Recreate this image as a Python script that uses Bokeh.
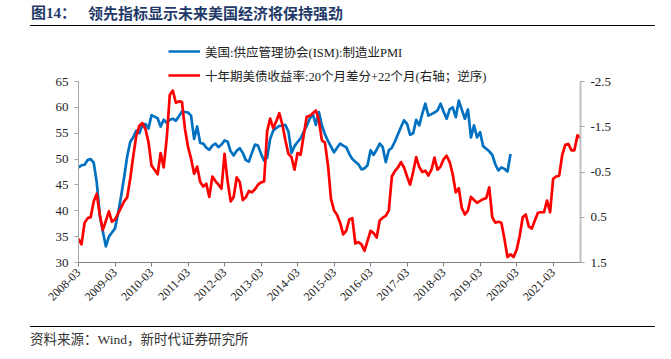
import math
import pandas as pd
from bokeh.plotting import figure
from bokeh.layouts import column
from bokeh.models import Range1d, LinearAxis, FixedTicker, Legend, LegendItem, Div
from bokeh.embed import file_html
from bokeh.resources import INLINE

# ---------------- data ----------------
months = [d.strftime("%Y-%m") for d in pd.date_range("2008-03-01", periods=166, freq="MS")]

pmi = [48.4, 48.8, 48.9, 49.8, 50.0, 49.3, 45.5, 39.1, 36.0, 33.1,
       35.0, 35.8, 36.6, 39.5, 42.8, 46.5, 50.5, 53.3, 54.2, 55.5,
       55.0, 56.6, 56.8, 55.9, 58.5, 58.2, 57.9, 56.3, 57.6, 57.0,
       57.6, 57.8, 57.4, 58.3, 59.2, 59.1, 59.0, 58.4, 53.9, 56.3,
       53.1, 53.0, 52.2, 51.8, 52.6, 53.0, 52.3, 52.8, 53.6, 53.4,
       51.5, 50.7, 51.6, 52.1, 51.2, 49.8, 49.5, 51.2, 52.8, 52.6,
       51.0, 49.7, 50.3, 53.9, 55.5, 56.0, 56.4, 56.5, 56.6, 55.3,
       51.2, 52.5, 53.3, 54.0, 55.2, 56.4, 57.8, 58.8, 56.6, 59.1,
       56.5, 54.8, 53.5, 52.4, 51.3, 52.2, 53.0, 52.6, 52.3, 51.0,
       50.0, 49.5, 49.0, 48.0, 48.2, 48.8, 51.7, 50.8, 51.8, 53.0,
       52.3, 49.4, 51.7, 52.2, 53.4, 54.8, 56.2, 57.5, 56.8, 54.7,
       55.0, 57.6, 56.5, 58.8, 60.7, 58.4, 58.7, 59.0, 59.4, 60.7,
       59.2, 57.8, 59.6, 60.0, 58.1, 61.3, 59.5, 57.8, 59.6, 54.2,
       56.5, 54.2, 55.2, 52.5, 52.0, 51.5, 50.8, 49.0, 47.8, 48.4,
       48.1, 47.6, 51.0]

ust = [0.98, 1.10, 0.62, 0.52, 0.50, 0.15, -0.02, 0.45, 0.78, 0.58,
       0.37, 0.60, 0.55, 0.42, 0.28, 0.15, 0.06, -0.35, -0.85, -1.30,
       -1.52, -1.58, -1.45, -1.16, -0.64, -0.55, -0.45, -0.92, -0.60, -1.25,
       -2.20, -2.30, -2.03, -2.06, -2.05, -1.45, -1.05, -0.80, -0.46, -0.62,
       -0.28, -0.18, -0.24, 0.05, -0.40, -0.30, -0.22, -0.13, -0.90, -0.30,
       0.15, 0.05, -0.38, -0.28, 0.12, 0.06, -0.08, -0.05, -0.12, -0.22,
       -0.27, -0.29, -1.40, -1.68, -1.47, -1.62, -1.80, -1.55, -1.20, -0.90,
       -0.83, -0.55, -0.92, -0.88, -1.30, -1.72, -1.74, -1.80, -1.86, -1.65,
       -1.20, -1.15, -0.65, 0.10, 0.35, 0.45, 0.62, 0.88, 0.80, 0.55,
       0.52, 1.08, 1.05, 1.10, 1.24, 1.02, 0.80, 0.85, 0.95, 0.57,
       0.51, 0.47, 0.35, -0.40, -0.52, -0.60, -0.72, -0.60, -0.40, -0.22,
       -0.50, -0.83, -0.61, -0.50, -0.53, -0.42, -0.55, -0.82, -0.55, -0.62,
       -0.78, -0.86, -0.72, -0.45, -0.05, -0.14, 0.30, 0.44, 0.35, 0.05,
       0.12, 0.18, 0.14, 0.10, 0.08, -0.16, 0.50, 0.62, 0.60, 0.62,
       0.98, 1.38, 1.32, 1.38, 1.22, 0.92, 0.50, 0.44, 0.70, 0.75,
       0.57, 0.40, 0.39, 0.39, 0.13, 0.39, -0.35, -0.40, -0.42, -0.88,
       -1.10, -1.12, -0.98, -0.98, -1.31, -1.25]

x_tick_labels = ["2008-03", "2009-03", "2010-03", "2011-03", "2012-03", "2013-03",
                 "2014-03", "2015-03", "2016-03", "2017-03", "2018-03", "2019-03",
                 "2020-03", "2021-03"]
left_ticks = [30, 35, 40, 45, 50, 55, 60, 65]
right_ticks = [-2.5, -1.5, -0.5, 0.5, 1.5]
right_labels = ["-2.5", "-1.5", "-0.5", "0.5", "1.5"]

pmi_name = "美国:供应管理协会(ISM):制造业PMI"
ust_name = "十年期美债收益率:20个月差分+22个月(右轴；逆序)"
title_no = "图14："
title_txt = "领先指标显示未来美国经济将保持强劲"
source_txt = "资料来源：Wind，新时代证券研究所"

FONT = "'Liberation Serif', 'Noto Sans CJK SC'"
W = 671

# ---------------- title strip ----------------
title_div = Div(width=W, height=30, margin=0, text=(
    '<div style="position:relative;width:671px;height:30px;">'
    '<span style="position:absolute;left:31px;top:4px;line-height:18px;'
    "font-family:'Liberation Serif','Noto Sans CJK SC';font-size:15px;font-weight:bold;"
    'color:#1F3A68;white-space:nowrap;">' + title_no + '</span>'
    '<span style="position:absolute;left:88px;top:4px;line-height:18px;'
    "font-family:'Noto Sans CJK SC';font-size:15px;font-weight:bold;"
    'color:#1F3A68;white-space:nowrap;">' + title_txt + '</span>'
    '<div style="position:absolute;left:30px;top:25px;width:625px;height:0;'
    'border-top:1px solid #000;"></div></div>'))

# ---------------- main chart ----------------
xi = list(range(len(months)))
PAD_TOP = 41          # px of frame above the 65 / -2.5 line (room for the legend)
PLOT_H = 181          # px between 65 and 30
left_lo, left_hi = left_ticks[0], left_ticks[-1]
right_lo, right_hi = right_ticks[-1], right_ticks[0]
left_end = left_hi + PAD_TOP * (left_hi - left_lo) / PLOT_H
right_end = right_hi - PAD_TOP * (right_lo - right_hi) / PLOT_H

p = figure(width=W, height=290, output_backend="svg", toolbar_location=None,
           x_range=Range1d(0, len(months) - 1), y_range=Range1d(left_lo, left_end),
           min_border_left=78, min_border_right=91, min_border_top=10,
           min_border_bottom=58)
p.outline_line_color = None
p.xgrid.visible = False
p.ygrid.visible = False
p.extra_y_ranges = {"r": Range1d(start=right_lo, end=right_end)}

r_pmi = p.line(xi[:len(pmi)], pmi, line_color="#0070C0", line_width=2.7,
               line_join="round")
r_ust = p.line(xi, ust, line_color="#FF0000", line_width=2.7, line_join="round",
               y_range_name="r")

xpos = [months.index(m) for m in x_tick_labels]
xa = p.xaxis[0]
xa.ticker = FixedTicker(ticks=xpos)
xa.major_label_overrides = {pos: lab for pos, lab in zip(xpos, x_tick_labels)}
xa.major_label_orientation = math.pi / 4
xa.axis_line_color = "#808080"
xa.major_tick_line_color = "#808080"
xa.major_tick_in = 0
xa.major_tick_out = 4
xa.minor_tick_line_color = None
xa.major_label_text_font = FONT
xa.major_label_text_font_size = "12px"
xa.major_label_text_color = "#222222"
xa.major_label_standoff = 4

ya = p.yaxis[0]
ya.ticker = FixedTicker(ticks=left_ticks)
ya.bounds = (left_lo, left_hi)
ya.axis_line_color = "#a6a6a6"
ya.major_tick_line_color = "#a6a6a6"
ya.major_tick_in = 0
ya.major_tick_out = 4
ya.minor_tick_line_color = None
ya.major_label_text_font = FONT
ya.major_label_text_font_size = "13px"
ya.major_label_text_color = "#222222"
ya.major_label_standoff = 6

ra = LinearAxis(y_range_name="r", ticker=FixedTicker(ticks=right_ticks),
                bounds=(right_hi, right_lo),
                major_label_overrides={t_: l for t_, l in zip(right_ticks, right_labels)})
ra.axis_line_color = "#c0c0c0"
ra.axis_line_width = 2
ra.major_tick_line_color = "#a6a6a6"
ra.major_tick_in = 0
ra.major_tick_out = 4
ra.minor_tick_line_color = None
ra.major_label_text_font = FONT
ra.major_label_text_font_size = "13px"
ra.major_label_text_color = "#222222"
ra.major_label_standoff = 6
p.add_layout(ra, "right")

legend = Legend(items=[LegendItem(label=pmi_name, renderers=[r_pmi]),
                       LegendItem(label=ust_name, renderers=[r_ust])],
                location=(90, 177), orientation="vertical",
                border_line_color=None, background_fill_alpha=0,
                padding=0, margin=0, spacing=4, glyph_width=32, glyph_height=20,
                label_height=20, label_standoff=5,
                label_text_font=FONT, label_text_font_size="12.5px",
                label_text_color="#222222")
p.add_layout(legend, "center")

# ---------------- footer strip ----------------
footer_div = Div(width=W, height=39, margin=0, text=(
    '<div style="position:relative;width:671px;height:39px;">'
    '<div style="position:absolute;left:30px;top:6px;width:625px;height:0;'
    'border-top:1px solid #000;"></div>'
    '<span style="position:absolute;left:30px;top:11px;line-height:18px;'
    "font-family:'Liberation Serif','Noto Sans CJK SC';font-size:13.5px;"
    'color:#333;white-space:nowrap;">' + source_txt + '</span></div>'))

layout = column(title_div, p, footer_div, spacing=0)
open("out.html", "w").write(file_html(layout, INLINE))
